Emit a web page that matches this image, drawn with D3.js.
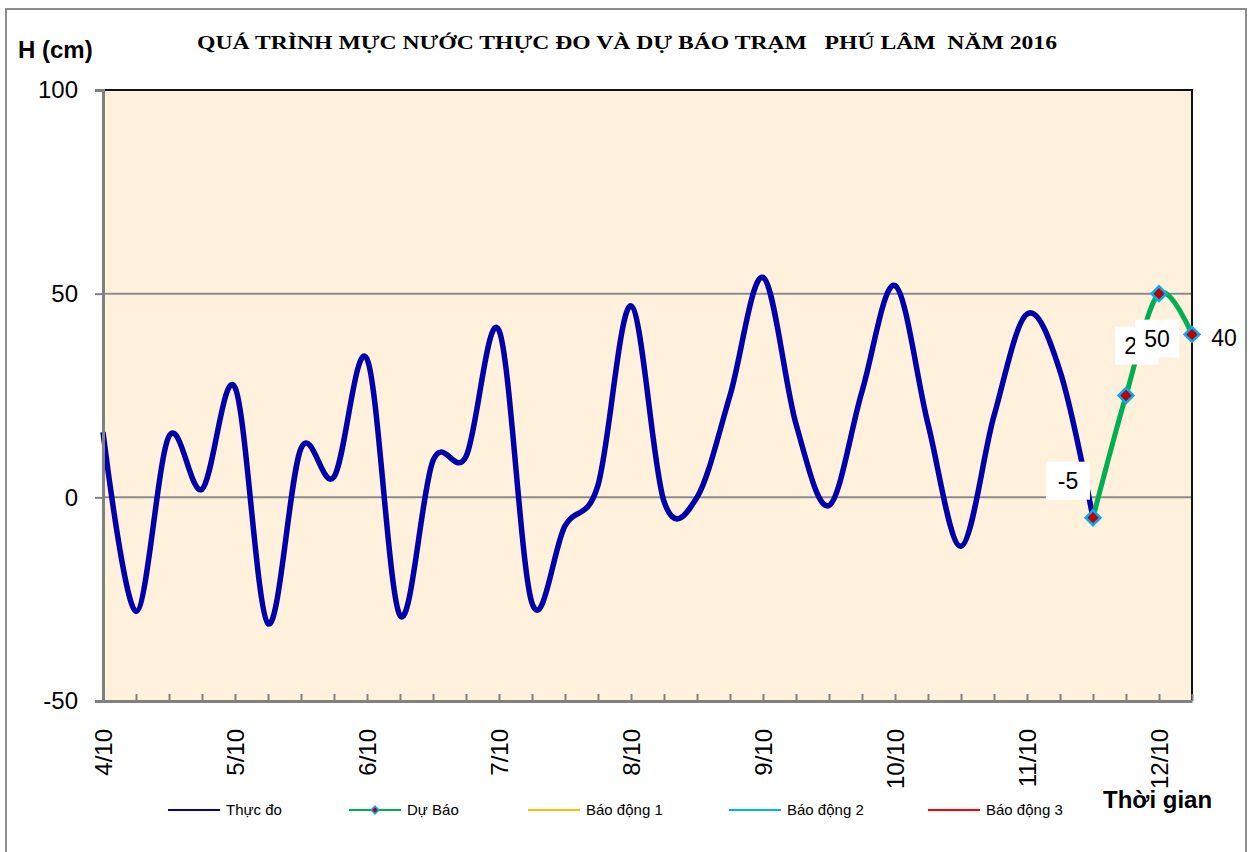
<!DOCTYPE html>
<html>
<head>
<meta charset="utf-8">
<script src="https://cdn.jsdelivr.net/npm/d3@7"></script>
<style>
  body { margin: 0; background: #fff; }
</style>
</head>
<body>
<script>
// days shown on the x axis, each split into 4 readings (every 6 hours)
var days = ["4/10", "5/10", "6/10", "7/10", "8/10", "9/10", "10/10", "11/10", "12/10"];
var hours = ["1h", "7h", "13h", "19h"];

// water level measured (cm), one per 6 hours
var thucDo = [16, -28, 15, 2, 27, -31, 12, 5, 34, -29, 9, 10, 41, -26, -7, 3,
              47, -1, 0, 25, 54, 18, -2, 26, 52, 18, -12, 20, 45, 31, -5];
// forecast, starts at the last measured point
var duBao = [-5, 25, 50, 40];
var duBaoStart = 30;

var yTicks = [-50, 0, 50, 100];
var legendNames = ["Thực đo", "Dự Báo", "Báo động 1", "Báo động 2", "Báo động 3"];

var categories = [];
days.forEach(d => hours.forEach(h => categories.push(d + " " + h)));
categories = categories.slice(0, 34);

var SANS = "'Liberation Sans', Arial, sans-serif";
var W = 1251, H = 852;
var margin = {top: 90, right: 59, bottom: 151, left: 103};

var svg = d3.select("body").append("svg")
    .attr("width", W)
    .attr("height", H)
    .style("font-family", SANS);

// outer chart frame
svg.append("rect")
    .attr("x", 6).attr("y", 9)
    .attr("width", 1240).attr("height", 860)
    .attr("fill", "#fff")
    .attr("stroke", "#8c8c8c")
    .attr("stroke-width", 2);

var x = d3.scalePoint()
    .domain(categories)
    .range([margin.left, W - margin.right]);

var y = d3.scaleLinear()
    .domain([-50, 100])
    .range([H - margin.bottom, margin.top]);

// plot background
svg.append("rect")
    .attr("x", x.range()[0]).attr("y", y(100))
    .attr("width", x.range()[1] - x.range()[0])
    .attr("height", y(-50) - y(100))
    .attr("fill", "#fff1dc");

// grid lines
svg.append("g").selectAll("line")
    .data([0, 50])
    .enter().append("line")
    .attr("x1", x.range()[0]).attr("x2", x.range()[1])
    .attr("y1", d => y(d)).attr("y2", d => y(d))
    .attr("stroke", "#8c8c8c")
    .attr("stroke-width", 2);

// top + right border of plot area
svg.append("path")
    .attr("d", "M" + x.range()[0] + "," + y(100) + "H" + x.range()[1] + "V" + y(-50))
    .attr("fill", "none")
    .attr("stroke", "#111")
    .attr("stroke-width", 2);

var line = d3.line()
    .x(d => x(categories[d.i]))
    .y(d => y(d.v))
    .curve(d3.curveCatmullRom.alpha(0));

svg.append("path")
    .datum(thucDo.map((v, i) => ({i: i, v: v})))
    .attr("d", line)
    .attr("fill", "none")
    .attr("stroke", "#0000aa")
    .attr("stroke-width", 5.5)
    .attr("stroke-linejoin", "round");

var fc = duBao.map((v, i) => ({i: i + duBaoStart, v: v}));

svg.append("path")
    .datum(fc)
    .attr("d", line)
    .attr("fill", "none")
    .attr("stroke", "#00b050")
    .attr("stroke-width", 5);

svg.append("g").selectAll("path")
    .data(fc)
    .enter().append("path")
    .attr("transform", d => "translate(" + x(categories[d.i]) + "," + y(d.v) + ") rotate(45)")
    .attr("d", d3.symbol().type(d3.symbolSquare).size(110))
    .attr("fill", "#c00000")
    .attr("stroke", "#00b0f0")
    .attr("stroke-width", 2.5);

// data labels (dx, dy from the point)
var labelOffset = [[-25, -37], [11, -50], [-2, 45], [32, 3]];
var lab = svg.append("g").selectAll("g")
    .data(fc)
    .enter().append("g")
    .attr("transform", (d, i) => "translate(" + (x(categories[d.i]) + labelOffset[i][0]) + "," + (y(d.v) + labelOffset[i][1]) + ")");
lab.append("rect")
    .attr("x", -22).attr("y", -19)
    .attr("width", 44).attr("height", 38)
    .attr("fill", (d, i) => i == 3 ? "none" : "#fff");
lab.append("text")
    .attr("text-anchor", "middle")
    .attr("dy", "0.36em")
    .attr("font-size", 23)
    .attr("fill", "#000")
    .text(d => d.v);

// y axis
var yAxis = svg.append("g")
    .attr("transform", "translate(" + x.range()[0] + ",0)")
    .call(d3.axisLeft(y).tickValues(yTicks).tickSize(8).tickPadding(17)
        .tickFormat(d => String(d)));
yAxis.select(".domain").attr("stroke", "#808080").attr("stroke-width", 3);
yAxis.selectAll(".tick line").attr("stroke", "#808080").attr("stroke-width", 2);
yAxis.selectAll(".tick text")
    .attr("font-size", 24)
    .attr("font-family", SANS)
    .attr("fill", "#000");

// x axis, ticks pointing into the plot
var xAxis = svg.append("g")
    .attr("transform", "translate(0," + y(-50) + ")")
    .call(d3.axisBottom(x).tickSize(-7).tickSizeOuter(0).tickFormat(""));
xAxis.select(".domain").attr("stroke", "#808080").attr("stroke-width", 3);
xAxis.selectAll(".tick line").attr("stroke", "#808080").attr("stroke-width", 2);

svg.append("g").selectAll("text")
    .data(days)
    .enter().append("text")
    .attr("transform", d => "translate(" + x(d + " 1h") + "," + (y(-50) + 28) + ") rotate(-90)")
    .attr("text-anchor", "end")
    .attr("dy", "0.36em")
    .attr("font-size", 24)
    .attr("fill", "#000")
    .text(d => d);

// titles
svg.append("text")
    .attr("x", 197).attr("y", 49)
    .attr("textLength", 860)
    .attr("lengthAdjust", "spacingAndGlyphs")
    .style("font-family", "'Liberation Serif', 'Times New Roman', serif")
    .attr("font-weight", "bold")
    .attr("font-size", 19)
    .attr("xml:space", "preserve")
    .style("white-space", "pre")
    .text("QUÁ TRÌNH MỰC NƯỚC THỰC ĐO VÀ DỰ BÁO TRẠM   PHÚ LÂM  NĂM 2016");

svg.append("text")
    .attr("x", 18).attr("y", 58)
    .attr("font-weight", "bold")
    .attr("font-size", 24)
    .text("H (cm)");

svg.append("text")
    .attr("x", 1103).attr("y", 808)
    .attr("font-weight", "bold")
    .attr("font-size", 24)
    .text("Thời gian");

// legend
var legColors = ["#0000aa", "#00b050", "#ffc000", "#00b0f0", "#ff0000"];
var legX = [168, 349, 528, 729, 928];
var leg = svg.append("g").selectAll("g")
    .data(legendNames)
    .enter().append("g")
    .attr("transform", (d, i) => "translate(" + legX[i] + ",810)");
leg.append("line")
    .attr("x1", 0).attr("x2", 52)
    .attr("stroke", (d, i) => legColors[i])
    .attr("stroke-width", 2);
leg.filter((d, i) => i == 1).append("path")
    .attr("transform", "translate(26,0) rotate(45)")
    .attr("d", d3.symbol().type(d3.symbolSquare).size(30))
    .attr("fill", "#c00000")
    .attr("stroke", "#00b0f0")
    .attr("stroke-width", 1.5);
leg.append("text")
    .attr("x", 58).attr("dy", "0.35em")
    .attr("font-size", 15)
    .attr("fill", "#000")
    .text(d => d);
</script>
</body>
</html>
